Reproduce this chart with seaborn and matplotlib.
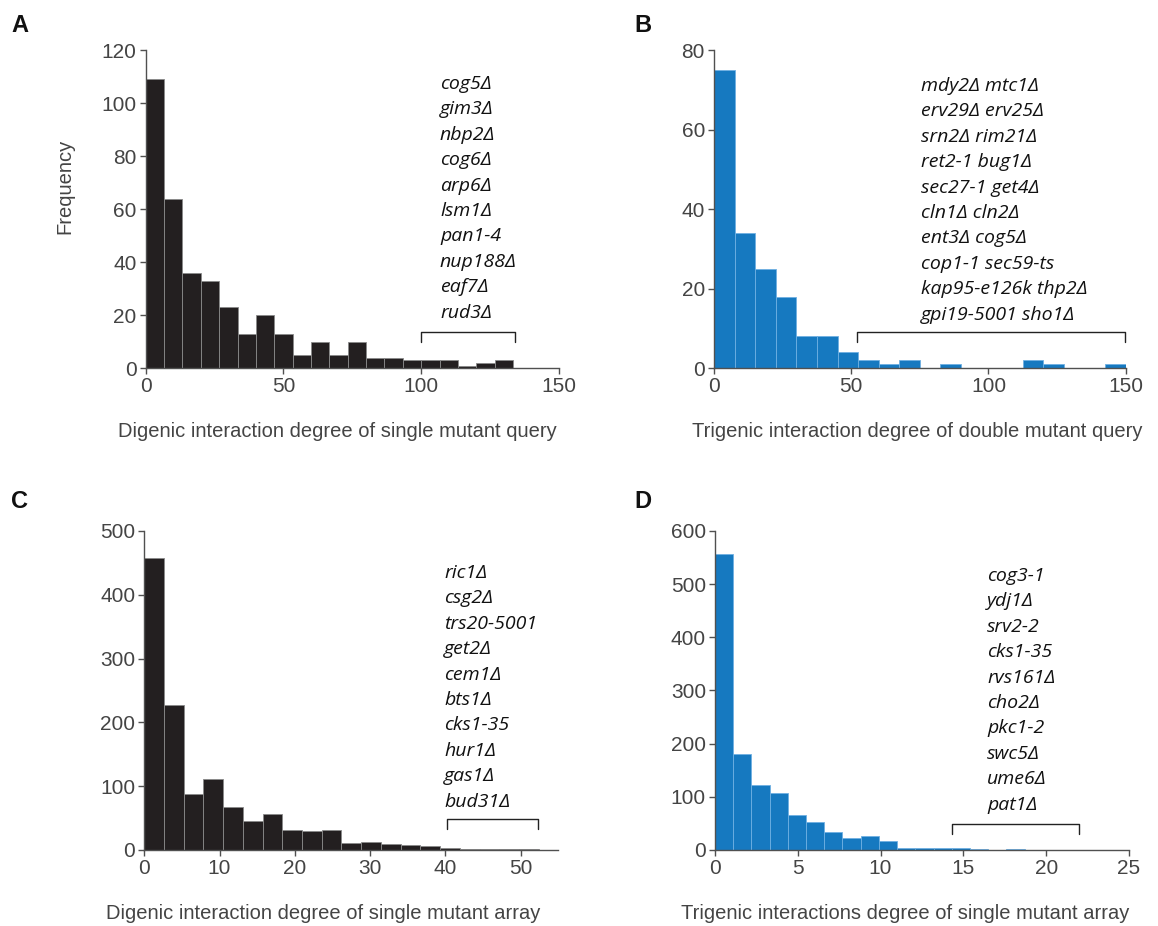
import matplotlib
matplotlib.use('Agg')
import matplotlib.pyplot as plt
import numpy as np
import pandas as pd
import seaborn as sns

sns.set_style('ticks')
plt.rcParams['font.family'] = ['Liberation Sans', 'DejaVu Sans']

# counts per bin
digenic_query = [109, 64, 36, 33, 23, 13, 20, 13, 5, 10,
                 5, 10, 4, 4, 3, 3, 3, 1, 2, 3]
trigenic_query = [75, 34, 25, 18, 8, 8, 4, 2, 1, 2,
                  0, 1, 0, 0, 0, 2, 1, 0, 0, 1]
digenic_array = [457, 228, 88, 111, 67, 45, 57, 31, 29, 31,
                 11, 12, 9, 8, 6, 3, 1, 1, 1, 2]
trigenic_array = [556, 180, 123, 108, 66, 53, 34, 23, 26, 16,
                  3, 4, 4, 3, 1, 0, 1, 0, 0, 0]

genes_a = ['cog5Δ', 'gim3Δ', 'nbp2Δ', 'cog6Δ', 'arp6Δ', 'lsm1Δ',
           'pan1-4', 'nup188Δ', 'eaf7Δ', 'rud3Δ']
genes_b = ['mdy2Δ mtc1Δ', 'erv29Δ erv25Δ', 'srn2Δ rim21Δ', 'ret2-1 bug1Δ',
           'sec27-1 get4Δ', 'cln1Δ cln2Δ', 'ent3Δ cog5Δ', 'cop1-1 sec59-ts',
           'kap95-e126k thp2Δ', 'gpi19-5001 sho1Δ']
genes_c = ['ric1Δ', 'csg2Δ', 'trs20-5001', 'get2Δ', 'cem1Δ', 'bts1Δ',
           'cks1-35', 'hur1Δ', 'gas1Δ', 'bud31Δ']
genes_d = ['cog3-1', 'ydj1Δ', 'srv2-2', 'cks1-35', 'rvs161Δ', 'cho2Δ',
           'pkc1-2', 'swc5Δ', 'ume6Δ', 'pat1Δ']

BLACK = '#231f20'
BLUE = '#1679c0'
GRAY = '#505050'

panels = [
    dict(letter='A', counts=digenic_query, hi=133.3, color=BLACK, edge='#8a8a8a',
         rect=[0.1258, 0.6023, 0.357, 0.3437], xlim=150, xticks=[0, 50, 100, 150],
         ylim=120, yticks=range(0, 121, 20),
         xlabel='Digenic interaction degree of single mutant query', lx=0.463,
         genes=genes_a, gx=440, gy=84, bracket=(100, 134, 13.8, 10),
         ylab=True, lpos=(11, 26)),
    dict(letter='B', counts=trigenic_query, hi=150, color=BLUE, edge='#6fb0e2',
         rect=[0.6166, 0.6023, 0.3555, 0.3437], xlim=150, xticks=[0, 50, 100, 150],
         ylim=80, yticks=range(0, 81, 20),
         xlabel='Trigenic interaction degree of double mutant query', lx=0.493,
         genes=genes_b, gx=921, gy=86, bracket=(52.2, 149.8, 9.2, 6.7),
         ylab=False, lpos=(634, 26)),
    dict(letter='C', counts=digenic_array, hi=52.4, color=BLACK, edge='#8a8a8a',
         rect=[0.1246, 0.0821, 0.3575, 0.3445], xlim=55, xticks=range(0, 51, 10),
         ylim=500, yticks=range(0, 501, 100),
         xlabel='Digenic interaction degree of single mutant array', lx=0.432,
         genes=genes_c, gx=444, gy=573, bracket=(40.2, 52.3, 48.6, 32.9),
         ylab=False, lpos=(11, 501)),
    dict(letter='D', counts=trigenic_array, hi=22.0, color=BLUE, edge='#6fb0e2',
         rect=[0.6174, 0.0821, 0.3575, 0.3445], xlim=25, xticks=range(0, 26, 5),
         ylim=600, yticks=range(0, 601, 100),
         xlabel='Trigenic interactions degree of single mutant array', lx=0.459,
         genes=genes_d, gx=987, gy=576, bracket=(14.3, 22.0, 48.3, 29.5),
         ylab=False, lpos=(634, 501)),
]

W, H = 1158, 926
fig = plt.figure(figsize=(W / 100, H / 100), dpi=100)

for p in panels:
    ax = fig.add_axes(p['rect'])
    n = len(p['counts'])
    bw = p['hi'] / n
    df = pd.DataFrame({'degree': (np.arange(n) + 0.5) * bw,
                       'freq': p['counts']})
    sns.histplot(data=df, x='degree', weights='freq', binwidth=bw,
                 binrange=(0, p['hi']), ax=ax, color=p['color'],
                 edgecolor=p['edge'], linewidth=0.6, alpha=1)
    ax.set_xlim(0, p['xlim'])
    ax.set_ylim(0, p['ylim'])
    ax.set_xticks(list(p['xticks']))
    ax.set_yticks(list(p['yticks']))
    for s in ['top', 'right']:
        ax.spines[s].set_visible(False)
    for s in ['left', 'bottom']:
        ax.spines[s].set_color(GRAY)
        ax.spines[s].set_linewidth(1.0)
    ax.tick_params(direction='out', length=4.5, width=1.0, color=GRAY,
                   labelcolor='#444444', labelsize=15, pad=2)
    ax.set_ylabel('Frequency' if p['ylab'] else '', fontsize=14.5,
                  color='#444444')
    if p['ylab']:
        ax.yaxis.set_label_coords(-0.172, 0.57)
    ax.set_xlabel(p['xlabel'], fontsize=14.5, color='#444444')
    ax.xaxis.set_label_coords(p['lx'], -0.168)

    # bracket over the tail
    x0, x1, yt, yb = p['bracket']
    ax.plot([x0, x0, x1, x1], [yb, yt, yt, yb], color='#222222', lw=1.0,
            clip_on=False)

    # gene names
    for i, g in enumerate(p['genes']):
        fig.text(p['gx'] / W, 1 - (p['gy'] + i * 25.4) / H, g,
                 family=['Open Sans', 'DejaVu Sans'], style='italic',
                 fontsize=14, color='#111111', va='center', ha='left')

    fig.text(p['lpos'][0] / W, 1 - p['lpos'][1] / H, p['letter'],
             fontsize=17, fontweight='bold', color='#111111',
             va='center', ha='left')

fig.savefig('out.png', dpi=100)
